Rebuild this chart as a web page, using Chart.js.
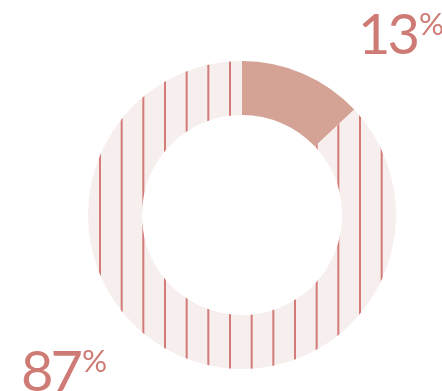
<!DOCTYPE html>
<html>
<head>
<meta charset="utf-8">
<script src="https://cdn.jsdelivr.net/npm/chart.js@4"></script>
<style>
  body { margin: 0; background: #fff; }
  #wrap { position: relative; width: 442px; height: 391px; overflow: hidden; }
  .lbl { position: absolute; color: #cf7b75; font-family: "Lato", "Noto Sans", sans-serif; font-weight: 400; line-height: 1; white-space: nowrap; letter-spacing: -3px; }
  .lbl sup { font-size: 0.56em; vertical-align: 0; position: relative; top: -0.6em; margin-left: 2px; letter-spacing: 0; }
</style>
</head>
<body>
<div id="wrap">
  <canvas id="share" width="442" height="391"></canvas>
  <div class="lbl" id="lblA" style="left:358px; top:5px; font-size:56px;">13<sup>%</sup></div>
  <div class="lbl" id="lblB" style="left:21px; top:342px; font-size:56px;">87<sup>%</sup></div>
</div>
<script>
var labels = ["13%", "87%"];
var values = [13, 87];

// stripe pattern for the big slice
var tile = document.createElement("canvas");
tile.width = 65;
tile.height = 4;
var tctx = tile.getContext("2d");
tctx.fillStyle = "#f7efee";
tctx.fillRect(0, 0, 65, 4);
tctx.fillStyle = "#d37b78";
[13.33, 35, 56.67].forEach(function (x) {
    tctx.fillRect(x - 1, 0, 2, 4);
});
var ctx = document.getElementById("share").getContext("2d");
var stripes = ctx.createPattern(tile, "repeat");

var data = {
    labels: labels,
    datasets: [
        {
            data: values,
            backgroundColor: ["#d4a396", stripes],
            hoverBackgroundColor: ["#d4a396", stripes],
            borderWidth: 0
        }]
};

var myDoughnutChart = new Chart(ctx, {
    type: 'doughnut',
    data: data,
    options: {
        responsive: false,
        animation: false,
        cutout: '65%',
        layout: {
            padding: { left: 88, right: 46, top: 61, bottom: 22 }
        },
        plugins: {
            legend: { display: false },
            tooltip: { enabled: false }
        }
    }
});
</script>
</body>
</html>
